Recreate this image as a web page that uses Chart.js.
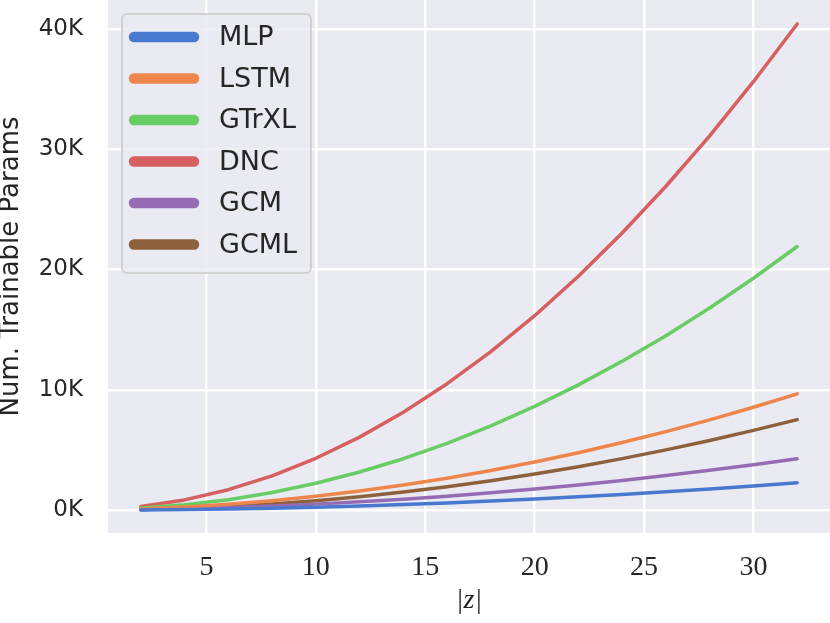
<!DOCTYPE html>
<html>
<head>
<meta charset="utf-8">
<script src="https://cdn.jsdelivr.net/npm/chart.js@4.4.1/dist/chart.umd.min.js"></script>
<style>
html,body{margin:0;padding:0;background:#ffffff;}
#wrap{width:830px;height:623px;position:relative;}
</style>
</head>
<body>
<div id="wrap"><canvas id="c" width="830" height="623"></canvas></div>
<script>
// ---- data ----
const zValues = [2, 4, 6, 8, 10, 12, 14, 16, 18, 20, 22, 24, 26, 28, 30, 32];
const seriesNames = ["MLP", "LSTM", "GTrXL", "DNC", "GCM", "GCML"];
const mlpParams   = [16, 50, 100, 166, 250, 350, 468, 602, 752, 920, 1104, 1306, 1524, 1758, 2010, 2278];
const lstmParams  = [94, 256, 486, 784, 1150, 1584, 2086, 2656, 3294, 4000, 4774, 5616, 6526, 7504, 8550, 9664];
const gtrxlParams = [185, 441, 867, 1463, 2230, 3167, 4275, 5553, 7001, 8620, 10409, 12369, 14499, 16799, 19270, 21911];
const dncParams   = [300, 850, 1700, 2850, 4310, 6070, 8140, 10510, 13180, 16160, 19440, 23030, 26920, 31110, 35610, 40410];
const gcmParams   = [62, 124, 218, 344, 500, 688, 906, 1156, 1438, 1750, 2094, 2468, 2874, 3312, 3780, 4280];
const gcmlParams  = [44, 146, 304, 518, 790, 1118, 1504, 1946, 2444, 3000, 3612, 4282, 5008, 5790, 6630, 7526];
const xTickValues = [5, 10, 15, 20, 25, 30];
const yTickValues = [0, 10000, 20000, 30000, 40000];
const xLabel = "|z|";
const yLabel = "Num. Trainable Params";

const colors = ["#4878d0", "#ee854a", "#6acc64", "#d65f5f", "#956cb4", "#8c613c"];
const allSeries = [mlpParams, lstmParams, gtrxlParams, dncParams, gcmParams, gcmlParams];

const datasets = allSeries.map((vals, i) => ({
  label: seriesNames[i],
  data: zValues.map((z, j) => ({x: z, y: vals[j]})),
  borderColor: colors[i],
  backgroundColor: colors[i],
  borderWidth: 3.5,
  pointRadius: 0,
  tension: 0,
  borderCapStyle: 'round',
  borderJoinStyle: 'round',
  fill: false
}));

const bgPlugin = {
  id: 'bg',
  beforeDraw(chart) {
    const {ctx, chartArea: a} = chart;
    ctx.save();
    ctx.fillStyle = '#eaeaf2';
    ctx.fillRect(a.left, a.top, a.right - a.left, a.bottom - a.top);
    ctx.restore();
  }
};

const legendPlugin = {
  id: 'customLegend',
  afterDatasetsDraw(chart) {
    const ctx = chart.ctx;
    const a = chart.chartArea;
    const bx = a.left + 14, by = a.top + 14, bw = 189, bh = 259;
    ctx.save();
    ctx.beginPath();
    ctx.roundRect(bx, by, bw, bh, 5);
    ctx.fillStyle = 'rgba(234,234,242,0.8)';
    ctx.fill();
    ctx.lineWidth = 2;
    ctx.strokeStyle = 'rgba(204,204,204,0.85)';
    ctx.stroke();
    chart.data.datasets.forEach((ds, i) => {
      const cy = by + 23 + i * 41.5;
      ctx.beginPath();
      ctx.moveTo(bx + 12, cy);
      ctx.lineTo(bx + 72, cy);
      ctx.lineWidth = 10.5;
      ctx.lineCap = 'round';
      ctx.strokeStyle = ds.borderColor;
      ctx.stroke();
      ctx.fillStyle = '#262626';
      ctx.font = '27px "DejaVu Sans"';
      ctx.textBaseline = 'middle';
      ctx.textAlign = 'left';
      ctx.fillText(ds.label, bx + 97, cy + 1);
    });
    ctx.restore();
  }
};

function zeroPad(s) { s.paddingTop = 0; s.paddingBottom = 0; s.paddingLeft = 0; s.paddingRight = 0; }

new Chart(document.getElementById('c'), {
  type: 'line',
  data: {datasets},
  options: {
    responsive: false,
    animation: false,
    devicePixelRatio: 1,
    layout: {padding: 0},
    plugins: {legend: {display: false}, tooltip: {enabled: false}},
    scales: {
      x: {
        type: 'linear',
        min: 0.5,
        max: 33.5,
        afterBuildTicks: s => { s.ticks = xTickValues.map(v => ({value: v})); },
        afterFit: s => { s.height = 90; zeroPad(s); },
        border: {display: false},
        grid: {color: '#ffffff', lineWidth: 2.4, drawTicks: false},
        ticks: {
          padding: 18,
          color: '#262626',
          font: {family: '"Liberation Serif"', size: 28},
          callback: v => String(v)
        },
        title: {
          display: true,
          text: xLabel,
          color: '#262626',
          font: {family: '"Liberation Serif"', size: 28, style: 'italic'},
          padding: {top: 0, bottom: 6}
        }
      },
      y: {
        type: 'linear',
        min: -1900,
        max: 42400,
        afterBuildTicks: s => { s.ticks = yTickValues.map(v => ({value: v})); },
        afterFit: s => { s.width = 108; zeroPad(s); },
        border: {display: false},
        grid: {color: '#ffffff', lineWidth: 2.4, drawTicks: false},
        ticks: {
          padding: 25,
          color: '#262626',
          font: {family: '"DejaVu Sans"', size: 23},
          callback: v => (v / 1000) + 'K'
        },
        title: {
          display: true,
          text: yLabel,
          color: '#262626',
          font: {family: '"DejaVu Sans"', size: 26, lineHeight: 0.9},
          padding: {top: 0, bottom: 0}
        }
      }
    }
  },
  plugins: [bgPlugin, legendPlugin]
});
</script>
</body>
</html>
